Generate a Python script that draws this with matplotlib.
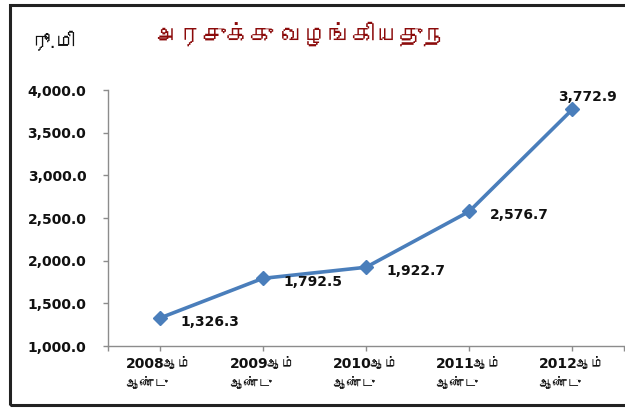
import numpy as np
import matplotlib
matplotlib.use("Agg")
import matplotlib.pyplot as plt
from matplotlib import font_manager, ft2font
from matplotlib.patches import Rectangle

# data: amount given to the government, per year
years = ["2008", "2009", "2010", "2011", "2012"]
values = [1326.3, 1792.5, 1922.7, 2576.7, 3772.9]
tick_labels = [y + "ஆம்\nஆண்டு" for y in years]
title_text = "அரசுக்கு வழங்கியதுந"
unit_text = "ரூ.மி"
y_ticks = [1000, 1500, 2000, 2500, 3000, 3500, 4000]


# look for any installed font that has tamil letters
def find_tamil_font():
    for f in font_manager.fontManager.ttflist:
        try:
            if 0x0B85 in ft2font.FT2Font(f.fname).get_charmap():
                return f.name
        except Exception:
            pass
    return "DejaVu Sans"


tamil = find_tamil_font()
fams = ["DejaVu Sans", tamil]

fig = plt.figure(figsize=(6.25, 4.09), dpi=100)
ax = fig.add_axes([108 / 625, 63 / 409, 516 / 625, 256 / 409])

x = np.arange(len(years))
ax.plot(x, values, color="#4a7ebb", lw=2.6, marker="D", ms=7,
        markeredgecolor="#4a7ebb", solid_capstyle="round", zorder=3)

ax.set_xlim(-0.5, len(years) - 0.5)
ax.set_ylim(1000, 4000)
ax.set_yticks(y_ticks)
ax.set_yticklabels([f"{v:,.1f}" for v in y_ticks], fontsize=10,
                   fontweight="bold", color="#111111")
ax.set_xticks(x)
ax.set_xticklabels(tick_labels, fontsize=10, fontweight="bold",
                   family=fams, multialignment="left", linespacing=1.5,
                   color="#111111")
ax.set_xticks([-0.5, len(years) - 0.5], minor=True)
ax.tick_params(axis="both", which="both", direction="out", length=3.6,
               color="#8c8c8c", width=1)
ax.tick_params(axis="x", pad=4)
ax.tick_params(axis="y", pad=12)

for s in ["top", "right"]:
    ax.spines[s].set_visible(False)
for s in ["left", "bottom"]:
    ax.spines[s].set_color("#8c8c8c")
    ax.spines[s].set_linewidth(1)

# value labels next to each point, last one sits above
for i, v in enumerate(values):
    if i == len(values) - 1:
        off, ha = (11, 9), "center"
    else:
        off, ha = (15, -2.5), "left"
    ax.annotate(f"{v:,.1f}", (i, v), xytext=off, textcoords="offset points",
                ha=ha, va="center", fontsize=10, fontweight="bold",
                color="#111111")

fig.text(155 / 625, 1 - 35 / 409, title_text, family=fams, fontsize=17,
         color="#8b0a0a", ha="left", va="center")
fig.text(30 / 625, 1 - 42 / 409, unit_text, family=fams, fontsize=14,
         color="#111111", ha="left", va="center")

# outer frame, its right side runs off the edge
fig.patches.append(Rectangle((10 / 625, 4 / 409), 1.2, 400 / 409,
                             transform=fig.transFigure, fill=False,
                             edgecolor="#222222", lw=2.2))

fig.savefig("out.png", dpi=100)
